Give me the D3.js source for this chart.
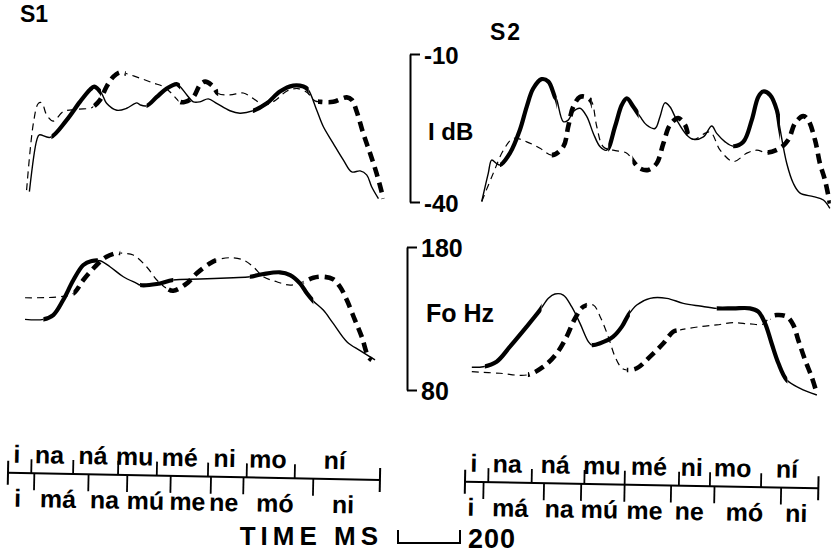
<!DOCTYPE html>
<html>
<head>
<meta charset="utf-8">
<script src="https://cdn.jsdelivr.net/npm/d3@7"></script>
<style>
  body { margin: 0; background: #fff; }
  svg { display: block; font-family: "Liberation Sans", Arial, Helvetica, sans-serif; }
  .txt { fill: #000; font-weight: bold; }
</style>
</head>
<body>
<svg id="fig" width="832" height="554"></svg>
<script>
// ---- Syllable frames (ms). Utterance A: "i má na mú me ne mó ni" (solid),
// utterance B: "i na ná mu mé ni mo ní" (dashed).
const sylB = ["i", "na", "ná", "mu", "mé", "ni", "mo", "ní"];
const sylA = ["i", "má", "na", "mú", "me", "ne", "mó", "ni"];
const s1BoundsB = [0, 75, 210, 355, 480, 645, 770, 925, 1200];
const s1BoundsA = [0, 85, 260, 385, 525, 655, 760, 985, 1200];
const s2BoundsB = [0, 75, 215, 385, 515, 690, 790, 955, 1140];
const s2BoundsA = [0, 60, 255, 375, 515, 665, 805, 1020, 1140];

// ---- Speaker S1, intensity (dB) [ms, dB]
const s1DbA = [[69,-37.9],[93,-27.4],[101,-26.4],[136,-26.9],[189,-23.4],[232,-19.7],[265,-17.2],[278,-16.6],[302,-18.0],[318,-20.0],[351,-21.4],[383,-21.0],[415,-19.9],[426,-20.3],[447,-20.5],[480,-18.7],[512,-17.0],[544,-16.1],[555,-16.6],[577,-18.3],[598,-19.7],[619,-19.7],[646,-19.1],[673,-20.0],[716,-21.5],[748,-22.0],[791,-21.5],[835,-20.0],[877,-17.6],[920,-16.4],[953,-16.6],[969,-17.3],[996,-21.4],[1017,-24.7],[1049,-28.1],[1082,-31.5],[1109,-33.9],[1136,-33.7],[1157,-34.5],[1173,-36.9],[1195,-39.3]];
const s1DbAStress = [[140,300],[447,555],[790,970]];
const s1DbB = [[60,-37.6],[82,-24.0],[98,-20.0],[109,-19.9],[125,-22.4],[146,-23.6],[178,-21.7],[222,-21.2],[265,-21.0],[275,-20.7],[297,-19.3],[318,-16.6],[340,-14.6],[361,-13.7],[377,-13.9],[426,-14.9],[469,-15.9],[501,-16.6],[528,-18.0],[555,-19.7],[571,-19.7],[598,-18.7],[619,-16.3],[636,-15.6],[662,-16.6],[678,-18.0],[716,-18.3],[759,-17.9],[791,-19.0],[824,-20.3],[860,-19.5],[900,-17.5],[935,-17.0],[965,-17.8],[990,-19.5],[1010,-19.7],[1049,-19.7],[1093,-18.8],[1109,-19.3],[1125,-21.7],[1146,-26.1],[1168,-30.1],[1189,-34.2],[1211,-39.3]];
const s1DbBStress = [[275,380],[550,678],[1000,1215]];

// ---- Speaker S2, intensity (dB)
const s2DbA = [[54,-39.9],[75,-34.2],[86,-31.5],[102,-32.2],[113,-32.5],[145,-30.1],[177,-25.4],[199,-20.7],[220,-17.0],[247,-15.1],[269,-15.6],[290,-18.7],[296,-19.3],[317,-23.7],[333,-23.4],[349,-21.7],[371,-21.0],[393,-22.7],[414,-26.1],[436,-28.8],[457,-29.5],[484,-24.7],[506,-20.3],[522,-19.0],[543,-20.7],[565,-22.7],[586,-24.4],[613,-25.1],[629,-22.7],[645,-19.9],[661,-20.7],[683,-23.4],[715,-26.4],[737,-27.3],[769,-26.8],[796,-24.6],[812,-26.1],[839,-27.8],[866,-28.7],[898,-27.8],[925,-23.4],[946,-18.7],[962,-17.6],[984,-18.3],[1006,-21.4],[1016,-25.1],[1038,-32.2],[1059,-36.2],[1081,-38.2],[1124,-38.9],[1156,-39.6],[1177,-41.3]];
const s2DbAStress = [[113,296],[462,560],[865,1016]];
const s2DbB = [[54,-39.9],[91,-34.2],[124,-29.5],[156,-27.1],[199,-27.8],[242,-29.1],[280,-30.5],[317,-28.8],[333,-24.7],[349,-20.7],[371,-18.7],[393,-18.8],[409,-19.7],[425,-24.7],[446,-28.8],[478,-29.5],[522,-30.1],[543,-31.8],[565,-33.2],[591,-33.5],[618,-32.2],[640,-28.1],[661,-24.4],[688,-23.0],[710,-24.4],[720,-26.1],[737,-27.3],[790,-25.8],[823,-29.5],[866,-31.8],[909,-30.1],[941,-29.5],[973,-30.0],[1016,-29.1],[1043,-27.4],[1065,-24.0],[1091,-22.6],[1107,-23.4],[1129,-27.4],[1145,-32.2],[1161,-35.5],[1177,-40.3]];
const s2DbBStress = [[280,409],[540,725],[976,1180]];

// ---- Speaker S1, fundamental frequency (Hz)
const s1HzA = [[55,129.4],[114,129.4],[146,132.4],[178,142.9],[211,156.9],[243,167.4],[270,170.2],[297,170.4],[329,166.2],[372,159.2],[415,154.6],[426,153.4],[480,154.1],[533,156.9],[619,157.6],[727,158.5],[781,159.2],[824,161.1],[877,162.3],[910,160.4],[942,154.6],[964,147.6],[985,142.2],[1017,135.9],[1049,126.6],[1093,113.8],[1136,107.5],[1184,101.0]];
const s1HzAStress = [[114,290],[426,533],[780,985]];
const s1HzB = [[55,144.5],[168,145.2],[211,147.6],[243,156.9],[286,167.4],[318,173.2],[356,176.0],[361,175.8],[404,174.4],[447,166.2],[480,156.9],[512,151.1],[533,149.4],[577,154.6],[609,161.6],[652,168.6],[673,170.9],[716,172.5],[759,170.9],[791,166.2],[824,159.2],[867,155.7],[910,153.4],[953,155.7],[985,158.5],[1017,159.2],[1049,157.4],[1071,152.2],[1093,142.9],[1119,129.0],[1141,117.3],[1162,103.3],[1173,101.0]];
const s1HzBStress = [[211,362],[510,673],[953,1180]];

// ---- Speaker S2, fundamental frequency (Hz)
const s2HzA = [[22,95.9],[59,96.3],[102,99.8],[145,110.3],[199,124.3],[242,135.9],[269,144.1],[290,147.1],[317,146.4],[344,138.3],[371,126.6],[398,113.8],[409,111.5],[436,112.7],[478,117.3],[506,124.3],[527,132.4],[554,139.4],[597,144.1],[651,144.1],[704,140.6],[758,138.7],[812,137.1],[866,137.1],[919,137.1],[946,134.8],[968,126.6],[989,112.7],[1011,98.7],[1038,87.0],[1081,81.2],[1135,76.5]];
const s2HzAStress = [[64,247],[409,532],[812,1040]];
const s2HzB = [[22,92.8],[113,91.7],[199,90.5],[253,96.3],[296,105.7],[328,117.3],[355,130.1],[382,138.3],[414,139.4],[436,131.3],[462,117.3],[484,103.3],[506,95.2],[522,94.0],[554,95.2],[597,103.3],[640,112.7],[672,120.8],[694,122.0],[758,124.3],[812,125.5],[866,127.1],[919,126.2],[962,126.2],[984,131.0],[1006,132.4],[1038,131.3],[1059,125.5],[1075,115.0],[1097,101.0],[1118,89.3],[1135,77.7]];
const s2HzBStress = [[203,393],[522,694],[984,1140]];

// ---- Scale ticks
const dbTicks = [-10, -40];
const hzTicks = [180, 80];
const scaleBarMs = 200;

// ---------------------------------------------------------------
const W = 832, H = 554;
const svg = d3.select("#fig");
const defs = svg.append("defs");

const ms = d3.scaleLinear().domain([0, 1200]).range([0, 372]);   // 0.31 px per ms
const xS1 = d3.scaleLinear().domain([0, 1200]).range([8, 8 + ms(1200)]);
const xS2 = d3.scaleLinear().domain([0, 1140]).range([465, 465 + ms(1140)]);
const yDb = d3.scaleLinear().domain([-40, -10]).range([202, 54]);
const yHz = d3.scaleLinear().domain([80, 180]).range([390, 247]);

function complement(spans, lo, hi) {
  const out = [];
  let cur = lo;
  spans.forEach(([a, b]) => { if (a > cur) out.push([cur, a]); cur = Math.max(cur, b); });
  if (cur < hi) out.push([cur, hi]);
  return out;
}

let clipId = 0;
function clipFor(spans, x) {
  const id = "clip" + (clipId++);
  defs.append("clipPath").attr("id", id)
    .selectAll("rect").data(spans).join("rect")
    .attr("x", d => x(d[0])).attr("width", d => x(d[1]) - x(d[0]))
    .attr("y", 0).attr("height", H);
  return "url(#" + id + ")";
}

const styles = {
  solid:  { thin: { w: 1.4, dash: null },  thick: { w: 4.2, dash: null } },
  dashed: { thin: { w: 1.2, dash: "7 5" }, thick: { w: 4.6, dash: "10 6" } }
};

function trace(data, stress, x, y, kind) {
  const line = d3.line()
    .x(d => x(d[0])).y(d => y(d[1]))
    .curve(d3.curveCatmullRom.alpha(0.5));
  const path = line(data);
  const st = styles[kind];
  const rest = complement(stress, -200, 1500);
  svg.append("path").attr("d", path)
    .attr("fill", "none").attr("stroke", "#000")
    .attr("stroke-width", st.thin.w)
    .attr("stroke-dasharray", st.thin.dash)
    .attr("stroke-linejoin", "round")
    .attr("clip-path", clipFor(rest, x));
  svg.append("path").attr("d", path)
    .attr("fill", "none").attr("stroke", "#000")
    .attr("stroke-width", st.thick.w)
    .attr("stroke-dasharray", st.thick.dash)
    .attr("stroke-linejoin", "round")
    .attr("clip-path", clipFor(stress, x));
}

// Intensity traces
trace(s1DbA, s1DbAStress, xS1, yDb, "solid");
trace(s1DbB, s1DbBStress, xS1, yDb, "dashed");
trace(s2DbA, s2DbAStress, xS2, yDb, "solid");
trace(s2DbB, s2DbBStress, xS2, yDb, "dashed");
// F0 traces
trace(s1HzA, s1HzAStress, xS1, yHz, "solid");
trace(s1HzB, s1HzBStress, xS1, yHz, "dashed");
trace(s2HzA, s2HzAStress, xS2, yHz, "solid");
trace(s2HzB, s2HzBStress, xS2, yHz, "dashed");

// ---- Bracket scales for dB and Hz
function bracket(yScale, ticks, x0, size, fs) {
  const ax = d3.axisRight(yScale)
    .tickValues(ticks).tickSize(size).tickSizeOuter(0).tickPadding(4)
    .tickFormat(d => String(d).replace("\u2212", "-"));
  const g = svg.append("g").attr("transform", `translate(${x0},0)`).call(ax);
  g.select(".domain").attr("stroke", "#000").attr("stroke-width", 2);
  g.selectAll(".tick line").attr("stroke", "#000").attr("stroke-width", 2);
  g.selectAll(".tick text")
    .attr("class", "txt").attr("font-size", fs).attr("dy", "0.38em")
    .attr("font-family", "Liberation Sans, Arial, sans-serif");
  return g;
}
bracket(yDb, dbTicks, 410, 10, 24);
bracket(yHz, hzTicks, 407, 10, 25);

svg.append("text").attr("class", "txt").attr("x", 428).attr("y", 140)
  .attr("font-size", 24).text("I dB");
svg.append("text").attr("class", "txt").attr("x", 426).attr("y", 322)
  .attr("font-size", 25).text("Fo Hz");

// ---- Speaker labels
svg.append("text").attr("class", "txt").attr("x", 20).attr("y", 22)
  .attr("font-size", 23).text("S1");
svg.append("text").attr("class", "txt").attr("x", 490).attr("y", 40)
  .attr("font-size", 23).attr("letter-spacing", 2).text("S2");

// ---- Syllable time lines
function timeline(x, y0, angle, boundsB, boundsA) {
  const g = svg.append("g")
    .attr("transform", `translate(${x(0)},${y0}) rotate(${angle})`);
  const end = x.domain()[1];
  const px = t => ms(t);
  g.append("line").attr("x1", 0).attr("x2", px(end)).attr("y1", 0).attr("y2", 0)
    .attr("stroke", "#000").attr("stroke-width", 2);
  // end marks
  g.selectAll("line.end").data([0, end]).join("line").attr("class", "end")
    .attr("x1", px).attr("x2", px).attr("y1", -12).attr("y2", 12)
    .attr("stroke", "#000").attr("stroke-width", 2);
  // upper utterance boundaries (above the line)
  g.selectAll("line.up").data(boundsB.slice(1, -1)).join("line").attr("class", "up")
    .attr("x1", px).attr("x2", px).attr("y1", -14).attr("y2", 0)
    .attr("stroke", "#000").attr("stroke-width", 1.8);
  // lower utterance boundaries (below the line)
  g.selectAll("line.dn").data(boundsA.slice(1, -1)).join("line").attr("class", "dn")
    .attr("x1", px).attr("x2", px).attr("y1", 0).attr("y2", 17)
    .attr("stroke", "#000").attr("stroke-width", 1.8);
  const mid = (b, i) => (px(b[i]) + px(b[i + 1])) / 2 - 3;
  g.selectAll("text.up").data(sylB).join("text").attr("class", "txt up")
    .attr("x", (d, i) => mid(boundsB, i)).attr("y", -10)
    .attr("text-anchor", "middle").attr("font-size", 25).text(d => d);
  g.selectAll("text.dn").data(sylA).join("text").attr("class", "txt dn")
    .attr("x", (d, i) => mid(boundsA, i)).attr("y", 34)
    .attr("text-anchor", "middle").attr("font-size", 25).text(d => d);
}
timeline(xS1, 472.7, 1.12, s1BoundsB, s1BoundsA);
timeline(xS2, 481.7, 1.07, s2BoundsB, s2BoundsA);

// ---- Time scale bar
const barX0 = 398, barY = 543;
svg.append("path")
  .attr("d", `M${barX0},${barY - 13}V${barY}H${barX0 + ms(scaleBarMs)}V${barY - 13}`)
  .attr("fill", "none").attr("stroke", "#000").attr("stroke-width", 2);
svg.append("text").attr("class", "txt").attr("x", 383).attr("y", 545)
  .attr("text-anchor", "end").attr("font-size", 26)
  .attr("letter-spacing", 5).text("TIME MS");
svg.append("text").attr("class", "txt").attr("x", 468).attr("y", 548)
  .attr("font-size", 27).attr("letter-spacing", 1).text(String(scaleBarMs));
</script>
</body>
</html>
